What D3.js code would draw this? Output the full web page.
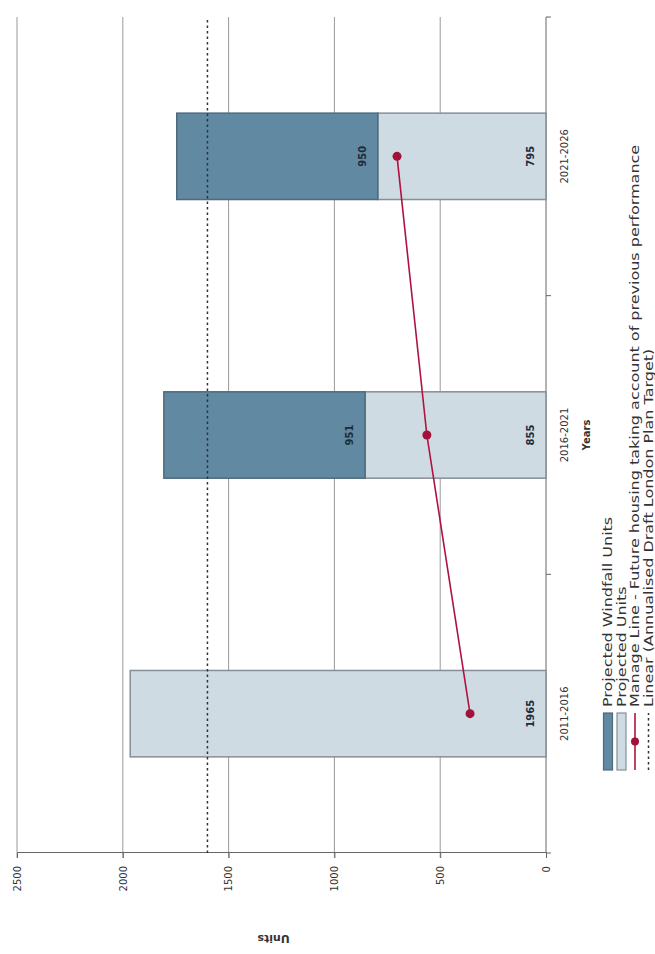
<!DOCTYPE html>
<html>
<head>
<meta charset="utf-8">
<script src="https://cdn.jsdelivr.net/npm/d3@7"></script>
<style>
  body { margin: 0; background: #fff; }
  text { font-family: "DejaVu Sans", Verdana, sans-serif; }
</style>
</head>
<body>
<svg id="chart" width="655" height="954"></svg>
<script>
// Chart data
const periods = ["2011-2016", "2016-2021", "2021-2026"];
const projectedUnits = [1965, 855, 795];
const windfallUnits = [0, 951, 950];
const manageLine = [359, 563, 704];
const planTarget = [1600, 1600, 1600];
const valueTicks = [0, 500, 1000, 1500, 2000, 2500];
const legendLabels = [
  "Projected Windfall Units",
  "Projected Units",
  "Manage Line - Future housing taking account of previous performance",
  "Linear (Annualised Draft London Plan Target)",
];

const colors = {
  windfall: "#6189a1",
  windfallEdge: "#4e6b7d",
  projected: "#cfdbe2",
  projectedEdge: "#858f95",
  manage: "#b0123f",
  target: "#333",
  grid: "#9a9a9a",
  axis: "#666",
};

// The chart is drawn landscape (954 x 655) then turned a quarter turn anticlockwise
const W = 954;
const svg = d3.select("#chart");
const g = svg.append("g").attr("transform", `translate(0,${W}) rotate(-90)`);

const plot = { left: 101, right: 937, top: 17, bottom: 546 };

const x = d3.scaleBand().domain(periods).range([plot.left, plot.right]).padding(0);
const y = d3.scaleLinear().domain([0, 2500]).range([plot.bottom, plot.top]);

const barFrac = 0.31;
const barW = x.bandwidth() * barFrac;
const barX = (d) => x(d) + (x.bandwidth() - barW) / 2;

// Gridlines
g.append("g")
  .selectAll("line")
  .data(valueTicks.filter((v) => v > 0))
  .join("line")
  .attr("x1", plot.left - 5)
  .attr("x2", plot.right)
  .attr("y1", (d) => y(d))
  .attr("y2", (d) => y(d))
  .attr("stroke", colors.grid)
  .attr("stroke-width", 1);

// Value axis
const yAxis = g.append("g")
  .attr("transform", `translate(${plot.left},0)`)
  .call(d3.axisLeft(y).tickValues(valueTicks).tickFormat(d3.format("d")).tickSize(5).tickPadding(8));
yAxis.select(".domain").attr("stroke", colors.axis);
yAxis.selectAll(".tick line").attr("stroke", colors.axis);
yAxis.selectAll(".tick text")
  .style("font-size", "10px")
  .attr("fill", "#333");

// Category axis
const xAxis = g.append("g").attr("transform", `translate(0,${plot.bottom})`);
xAxis.append("line")
  .attr("x1", plot.left).attr("x2", plot.right)
  .attr("stroke", colors.axis);
xAxis.selectAll("line.tick")
  .data(d3.range(periods.length + 1))
  .join("line")
  .attr("class", "tick")
  .attr("x1", (i) => plot.left + i * x.bandwidth())
  .attr("x2", (i) => plot.left + i * x.bandwidth())
  .attr("y1", 0).attr("y2", 5)
  .attr("stroke", colors.axis);
xAxis.selectAll("text.cat")
  .data(periods)
  .join("text")
  .attr("class", "cat")
  .attr("x", (d) => x(d) + x.bandwidth() / 2)
  .attr("y", 22)
  .attr("text-anchor", "middle")
  .style("font-size", "10px")
  .attr("fill", "#333")
  .text((d) => d);

// Axis titles
g.append("text")
  .attr("x", (plot.left + plot.right) / 2)
  .attr("y", 590)
  .attr("text-anchor", "middle")
  .style("font-size", "10px")
  .style("font-weight", "bold")
  .attr("fill", "#333")
  .text("Years");

g.append("text")
  .attr("transform", `translate(19,${(plot.top + plot.bottom) / 2 - 8}) rotate(-90)`)
  .attr("text-anchor", "middle")
  .style("font-size", "11px")
  .style("font-weight", "bold")
  .attr("fill", "#333")
  .text("Units");

// Stacked bars
const rows = periods.map((p, i) => ({
  period: p,
  projected: projectedUnits[i],
  windfall: windfallUnits[i],
}));
const series = d3.stack().keys(["projected", "windfall"])(rows);

const seriesStyle = {
  projected: { fill: colors.projected, stroke: colors.projectedEdge },
  windfall: { fill: colors.windfall, stroke: colors.windfallEdge },
};

series.forEach((s) => {
  const st = seriesStyle[s.key];
  const layer = g.append("g");
  const segs = s.filter((d) => d[1] - d[0] > 0);
  layer.selectAll("rect")
    .data(segs)
    .join("rect")
    .attr("x", (d) => barX(d.data.period))
    .attr("width", barW)
    .attr("y", (d) => y(d[1]))
    .attr("height", (d) => y(d[0]) - y(d[1]))
    .attr("fill", st.fill)
    .attr("stroke", st.stroke)
    .attr("stroke-width", 1.5);
  layer.selectAll("text")
    .data(segs)
    .join("text")
    .attr("x", (d) => barX(d.data.period) + barW / 2)
    .attr("y", (d) => y(d[0]) - 12)
    .attr("text-anchor", "middle")
    .style("font-size", "10px")
    .style("font-weight", "bold")
    .attr("fill", "#1d2b3a")
    .text((d) => d[1] - d[0]);
});

// Target trend line
const line = d3.line().x((d) => d[0]).y((d) => y(d[1]));
g.append("path")
  .datum([[plot.left, planTarget[0]], [plot.right, planTarget[planTarget.length - 1]]])
  .attr("d", line)
  .attr("fill", "none")
  .attr("stroke", colors.target)
  .attr("stroke-width", 1.5)
  .attr("stroke-dasharray", "2.5,3");

// Manage line
const managePts = periods.map((p, i) => [x(p) + x.bandwidth() / 2, manageLine[i]]);
g.append("path")
  .datum(managePts)
  .attr("d", line)
  .attr("fill", "none")
  .attr("stroke", colors.manage)
  .attr("stroke-width", 1.6);
g.append("g")
  .selectAll("circle")
  .data(managePts)
  .join("circle")
  .attr("cx", (d) => d[0])
  .attr("cy", (d) => y(d[1]))
  .attr("r", 4.5)
  .attr("fill", "#a3103a");

// Legend
const legend = g.append("g").attr("transform", "translate(184,608)");
const rowH = 13.5;
const swW = 57;
legendLabels.forEach((label, i) => {
  const row = legend.append("g").attr("transform", `translate(0,${i * rowH})`);
  if (i === 0 || i === 1) {
    const st = i === 0 ? seriesStyle.windfall : seriesStyle.projected;
    row.append("rect")
      .attr("x", 0).attr("y", -4.5)
      .attr("width", swW).attr("height", 9)
      .attr("fill", st.fill)
      .attr("stroke", st.stroke)
      .attr("stroke-width", 1.2);
  } else if (i === 2) {
    row.append("line")
      .attr("x1", 0).attr("x2", swW)
      .attr("stroke", colors.manage).attr("stroke-width", 1.6);
    row.append("circle")
      .attr("cx", swW / 2).attr("r", 4).attr("fill", "#a3103a");
  } else {
    row.append("line")
      .attr("x1", 0).attr("x2", swW)
      .attr("stroke", colors.target).attr("stroke-width", 1.5)
      .attr("stroke-dasharray", "2.5,3");
  }
  // legend text in the source is drawn wide, so stretch it along its length
  row.append("text")
    .attr("transform", `translate(${swW + 6},0) scale(1.28,1)`)
    .attr("dy", "0.35em")
    .style("font-size", "12.5px")
    .attr("fill", "#333")
    .text(label);
});
</script>
</body>
</html>
